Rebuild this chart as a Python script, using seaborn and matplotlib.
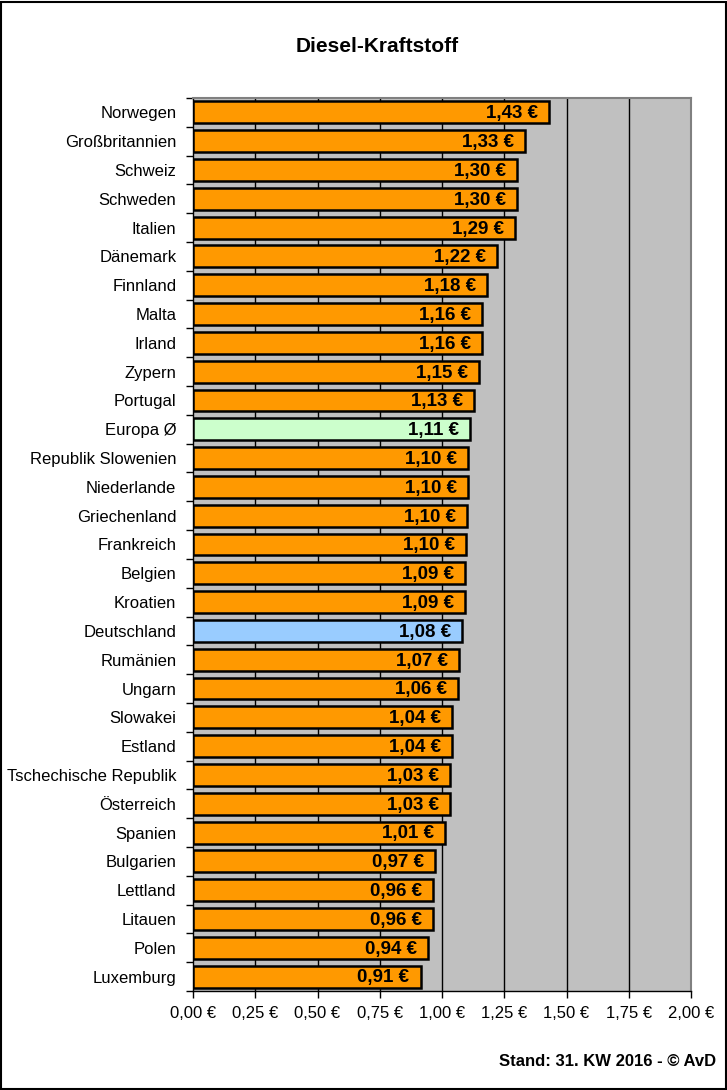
import numpy as np
import pandas as pd
import seaborn as sns
import matplotlib.pyplot as plt
from matplotlib.patches import Rectangle
from matplotlib.ticker import FixedLocator

countries = ['Norwegen', 'Großbritannien', 'Schweiz', 'Schweden', 'Italien', 'Dänemark',
             'Finnland', 'Malta', 'Irland', 'Zypern', 'Portugal', 'Europa Ø',
             'Republik Slowenien', 'Niederlande', 'Griechenland', 'Frankreich', 'Belgien',
             'Kroatien', 'Deutschland', 'Rumänien', 'Ungarn', 'Slowakei', 'Estland',
             'Tschechische Republik', 'Österreich', 'Spanien', 'Bulgarien', 'Lettland',
             'Litauen', 'Polen', 'Luxemburg']
prices = [1.430, 1.333, 1.301, 1.301, 1.293, 1.221, 1.181, 1.161, 1.161, 1.149, 1.129, 1.112,
          1.104, 1.104, 1.100, 1.096, 1.094, 1.092, 1.080, 1.068, 1.064, 1.040, 1.040,
          1.034, 1.032, 1.014, 0.972, 0.964, 0.964, 0.944, 0.914]
xticks = [0, 0.25, 0.5, 0.75, 1.0, 1.25, 1.5, 1.75, 2.0]

colors = {c: '#FF9900' for c in countries}
colors['Europa Ø'] = '#CCFFCC'
colors['Deutschland'] = '#99CCFF'

df = pd.DataFrame({'Land': countries, 'Preis': prices})

sns.set_style('white')
plt.rcParams['font.family'] = ['Liberation Sans', 'DejaVu Sans']
plt.rcParams['text.color'] = 'black'
plt.rcParams['xtick.color'] = 'black'
plt.rcParams['ytick.color'] = 'black'

fig = plt.figure(figsize=(7.27, 10.9), dpi=100)
ax = fig.add_axes([193/727, 1 - 991/1090, 498/727, 893/1090])
ax.set_facecolor('#C0C0C0')

sns.barplot(data=df, x='Preis', y='Land', hue='Land', palette=colors, legend=False,
            saturation=1, width=0.76, edgecolor='black', linewidth=1.8, orient='h',
            ax=ax, zorder=3)

for i, v in enumerate(prices):
    ax.annotate(f'{v:.2f} €'.replace('.', ','), (v, i), xytext=(-8, -1),
                textcoords='offset points', ha='right', va='center',
                fontsize=13.5, fontweight='bold', color='black', zorder=4)

ax.set_xlim(0, 2.0)
ax.set_ylim(len(countries) - 0.5, -0.5)
ax.set_xticks(xticks)
ax.set_xticklabels([f'{t:.2f} €'.replace('.', ',') for t in xticks], fontsize=12)
for t in xticks[1:-1]:
    ax.axvline(t, color='black', lw=1, zorder=1)

ax.yaxis.set_minor_locator(FixedLocator(np.arange(-0.5, len(countries), 1)))
ax.tick_params(axis='y', which='major', length=0, pad=12, labelsize=12)
ax.tick_params(axis='y', which='minor', length=5, width=1, color='black', left=True, direction='out')
ax.tick_params(axis='x', length=5, width=1, color='black', bottom=True, direction='out', pad=6)
ax.set_xlabel('')
ax.set_ylabel('')

for s in ['top', 'right']:
    ax.spines[s].set_color('#808080')
    ax.spines[s].set_linewidth(1.5)
for s in ['left', 'bottom']:
    ax.spines[s].set_color('black')
    ax.spines[s].set_linewidth(1)

fig.text(377/727, 1 - 47/1090, 'Diesel-Kraftstoff', ha='center', va='center',
         fontsize=15, fontweight='bold')
fig.text(716/727, 1 - 1062/1090, 'Stand: 31. KW 2016 - © AvD', ha='right', va='center',
         fontsize=12, fontweight='bold')

fig.patches.append(Rectangle((0.001, 0.001), 0.997, 0.997, transform=fig.transFigure,
                             fill=False, edgecolor='black', linewidth=1.5))

fig.savefig('out.png', dpi=100)
